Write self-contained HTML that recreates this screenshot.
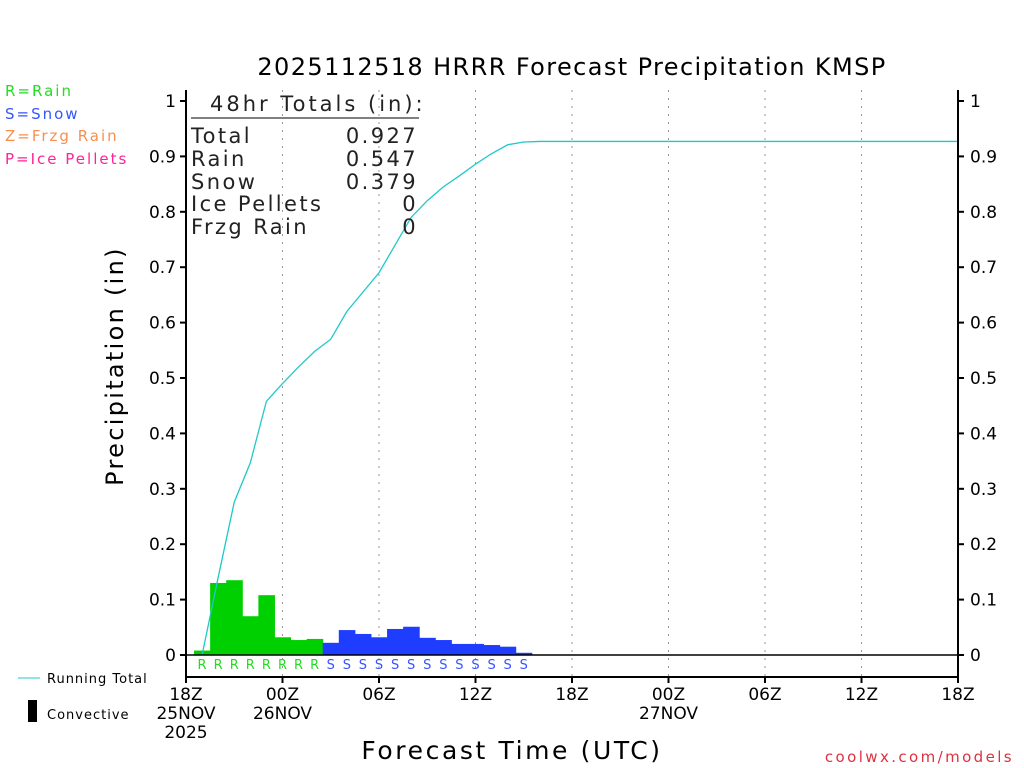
<!DOCTYPE html>
<html><head><meta charset="utf-8"><style>
body{margin:0;background:#fff}
svg{display:block;font-family:"DejaVu Sans","Liberation Sans",sans-serif}
</style></head><body>
<svg id="c" width="1024" height="768" viewBox="0 0 1024 768">
<text x="572" y="75" font-size="24" text-anchor="middle" letter-spacing="1.4">2025112518 HRRR Forecast Precipitation KMSP</text>
<g font-size="15" letter-spacing="2">
<text x="5" y="96" fill="#22dd22">R=Rain</text>
<text x="5" y="119" fill="#3355ff">S=Snow</text>
<text x="5" y="141" fill="#f59050">Z=Frzg Rain</text>
<text x="5" y="164" fill="#ff2299">P=Ice Pellets</text>
</g>
<g id="grid"></g>
<g id="bars"></g>
<g id="marks"></g>
<line x1="186" y1="655" x2="958" y2="655" stroke="#000" stroke-width="1.5"/>
<path d="M186 90V677H958V90" fill="none" stroke="#000" stroke-width="2"/>
<g id="yt" font-size="17"></g>
<g id="xt" font-size="17" text-anchor="middle"></g>
<text transform="translate(123,366) rotate(-90)" font-size="24" text-anchor="middle" letter-spacing="2.3">Precipitation (in)</text>
<text x="512" y="759" font-size="25" text-anchor="middle" letter-spacing="2.6">Forecast Time (UTC)</text>
<text x="1014" y="762" font-size="15" fill="#e03040" text-anchor="end" letter-spacing="2.4">coolwx.com/models</text>
<g font-size="21" fill="#222" letter-spacing="2.4">
<text x="210" y="111" letter-spacing="3">48hr Totals (in):</text>
<line x1="191" y1="118" x2="419" y2="118" stroke="#000"/>
<text x="191" y="143">Total</text><text x="418" y="143" text-anchor="end">0.927</text>
<text x="191" y="166">Rain</text><text x="418" y="166" text-anchor="end">0.547</text>
<text x="191" y="189">Snow</text><text x="418" y="189" text-anchor="end">0.379</text>
<text x="191" y="211">Ice Pellets</text><text x="418" y="211" text-anchor="end">0</text>
<text x="191" y="234">Frzg Rain</text><text x="418" y="234" text-anchor="end">0</text>
</g>
<g font-size="13" letter-spacing="1">
<line x1="18" y1="678" x2="40" y2="678" stroke="#20c8c8"/>
<text x="47" y="683">Running Total</text>
<rect x="28" y="700" width="9" height="22" fill="#000"/>
<text x="47" y="719">Convective</text>
</g>
</svg>
<script>
const hours=[19,20,21,22,23,24,25,26,27,28,29,30,31,32,33,34,35,36,37,38,39];
const ptype=['R','R','R','R','R','R','R','R','S','S','S','S','S','S','S','S','S','S','S','S','S'];
const precip=[0.008,0.130,0.135,0.070,0.108,0.032,0.027,0.029,0.022,0.045,0.038,0.032,0.047,0.051,0.031,0.027,0.020,0.020,0.018,0.015,0.004];
const totHours=[19,20,21,22,23,24,25,26,27,28,29,30,31,32,33,34,35,36,37,38,39,40,66];
const runTotal=[0,0.14,0.276,0.347,0.458,0.49,0.52,0.548,0.57,0.62,0.655,0.69,0.74,0.79,0.82,0.845,0.865,0.886,0.905,0.921,0.926,0.927,0.927];
const yTicks=[0,0.1,0.2,0.3,0.4,0.5,0.6,0.7,0.8,0.9,1];
const xTickHours=[18,24,30,36,42,48,54,60,66];
const xTickLabels=[['18Z','25NOV','2025'],['00Z','26NOV'],['06Z'],['12Z'],['18Z'],['00Z','27NOV'],['06Z'],['12Z'],['18Z']];
const NS='http://www.w3.org/2000/svg';
const X=h=>186+(h-18)*772/48, Y=v=>655-v*554;
function mk(t,a,p){const e=document.createElementNS(NS,t);for(const k in a)e.setAttribute(k,a[k]);document.getElementById(p).appendChild(e);return e;}
xTickHours.forEach((h,i)=>{
 if(i>0&&i<xTickHours.length-1){const g=mk('line',{x1:X(h),x2:X(h),y1:90,y2:677,stroke:'#999','stroke-dasharray':'2 6'},'grid');
 
 }
 const t=mk('line',{x1:X(h),x2:X(h),y1:677,y2:683,stroke:'#000','stroke-width':2},'xt');
 
 
 xTickLabels[i].forEach((s,j)=>{const l=mk('text',{x:X(h),y:700+j*19},'xt');l.textContent=s;
 
 });
});
yTicks.forEach(v=>{
 const a=mk('line',{x1:180,x2:186,y1:Y(v),y2:Y(v),stroke:'#000','stroke-width':2},'yt');
 
 
 const b=mk('line',{x1:958,x2:964,y1:Y(v),y2:Y(v),stroke:'#000','stroke-width':2},'yt');
 
 
 const s=String(v);
 const l=mk('text',{x:176,y:Y(v)+6,'text-anchor':'end'},'yt');l.textContent=s;
 
 
 const r=mk('text',{x:970,y:Y(v)+6},'yt');r.textContent=s;
 
 
});
const w=772/48;
hours.forEach((h,i)=>{
 const c=ptype[i]==='R'?'#00d000':'#1f3dff';
 const b=mk('rect',{x:X(h)-w/2,y:Y(precip[i]),width:w+0.5,height:655-Y(precip[i]),fill:c},'bars');
 
 
 const l=mk('text',{x:X(h),y:669,'font-size':13,'text-anchor':'middle',fill:ptype[i]==='R'?'#22dd22':'#3355ff'},'marks');
 l.textContent=ptype[i];
 
 
});
const p=mk('polyline',{points:totHours.map((h,i)=>X(h)+','+Y(runTotal[i])).join(' '),fill:'none',stroke:'#20c8c8','stroke-width':1.3},'marks');


</script>
</body></html>
